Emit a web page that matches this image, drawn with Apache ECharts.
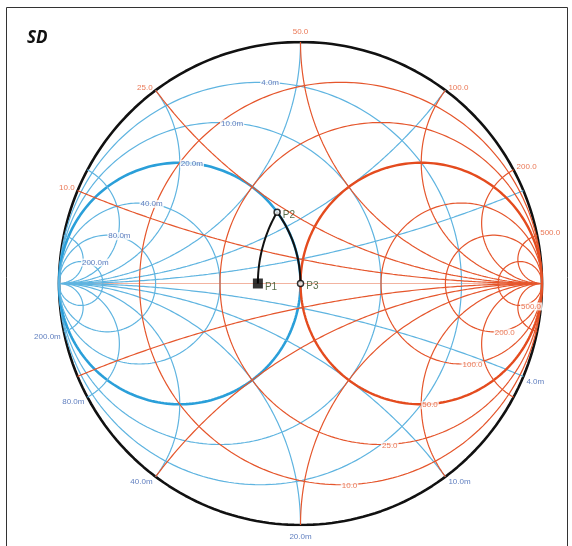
<!DOCTYPE html>
<html>
<head>
<meta charset="utf-8">
<title>SD</title>
<script src="https://cdn.jsdelivr.net/npm/echarts@6/dist/echarts.min.js"></script>
<style>
  html, body { margin: 0; padding: 0; background: #fff; }
  #chart { width: 572px; height: 546px; }
</style>
</head>
<body>
<div id="chart"></div>
<script>
// reference impedance, ohms
const Z0 = 50;
// red grid: constant resistance circles and reactance arcs (ohms)
const resistanceOhms = [10, 25, 50, 100, 200, 500];
const reactanceOhms = [10, 25, 50, 100, 200, 500];
// blue grid: constant conductance circles and susceptance arcs (mS)
const conductanceMS = [4, 10, 20, 40, 80, 200];
const susceptanceMS = [4, 10, 20, 40, 80, 200];
// matching path points (R + jX, ohms)
const pointNames = ['P1', 'P2', 'P3'];
const pointR = [35, 35, 50];
const pointX = [0, 22.9, 0];

const RED = '#e5562c';
const BLUE = '#5fb4e0';
const Y0 = 1000 / Z0; // mS

// z = r + jx (normalized) -> reflection coefficient
function gammaZ (r, x) {
  const den = (r + 1) * (r + 1) + x * x;
  return [(r * r - 1 + x * x) / den, (2 * x) / den];
}
// y = g + jb (normalized) -> reflection coefficient
function gammaY (g, b) {
  const p = gammaZ(g, b);
  return [-p[0], -p[1]];
}
function circle (cx, r) {
  const pts = [];
  for (let i = 0; i <= 240; i++) {
    const a = i / 240 * Math.PI * 2;
    pts.push([cx + r * Math.cos(a), r * Math.sin(a)]);
  }
  return pts;
}
function arc (fn, im) {
  const pts = [];
  for (let i = 0; i < 400; i++) {
    const t = i / 400;
    pts.push(fn(t / (1 - t), im));
  }
  pts.push(fn(1e6, im));
  return pts;
}
function lineSeries (data, color, width, z) {
  return {
    type: 'line', data: data, showSymbol: false, silent: true, smooth: false,
    lineStyle: { color: color, width: width }, z: z || 2
  };
}
function sideOf (p) {
  if (Math.abs(p[0]) < 0.15) return p[1] > 0 ? 'top' : 'bottom';
  return p[0] < 0 ? 'left' : 'right';
}

const series = [];
const labels = [];

// outer circle
series.push(lineSeries(circle(0, 1), '#111', 2.6, 1));
// real axis
series.push(lineSeries([[-1, 0], [1, 0]], '#f2b3a0', 1, 2));

// blue: conductance circles
conductanceMS.forEach(function (v) {
  const g = v / Y0;
  const cx = -g / (1 + g), r = 1 / (1 + g);
  series.push(lineSeries(circle(cx, r), g === 1 ? '#2a9fd9' : BLUE, g === 1 ? 2.6 : 1.2, 3));
  labels.push({ value: [cx, r], text: v.toFixed(1) + 'm', color: '#3a60b0', pos: 'right', bg: true });
});
// blue: susceptance arcs
susceptanceMS.forEach(function (v) {
  const b = v / Y0;
  series.push(lineSeries(arc(gammaY, b), BLUE, 1.2, 3));
  series.push(lineSeries(arc(gammaY, -b), BLUE, 1.2, 3));
  const p = gammaY(0, b);
  labels.push({ value: p, text: v.toFixed(1) + 'm', color: '#3a60b0', pos: sideOf(p), dy: 5 });
});
// red: resistance circles
resistanceOhms.forEach(function (v) {
  const r = v / Z0;
  const cx = r / (1 + r), rad = 1 / (1 + r);
  series.push(lineSeries(circle(cx, rad), r === 1 ? '#e44b1e' : RED, r === 1 ? 2.4 : 1.2, 4));
  labels.push({ value: [cx, -rad], text: v.toFixed(1), color: RED, pos: 'right', bg: true });
});
// red: reactance arcs
reactanceOhms.forEach(function (v) {
  const x = v / Z0;
  series.push(lineSeries(arc(gammaZ, x), RED, 1.2, 4));
  series.push(lineSeries(arc(gammaZ, -x), RED, 1.2, 4));
  const p = gammaZ(0, x);
  labels.push({ value: p, text: v.toFixed(1), color: RED, pos: sideOf(p), dy: -3 });
});

series.push({
  type: 'scatter', silent: true, symbolSize: 0, z: 6,
  data: labels.map(function (l) {
    return {
      value: l.value, name: l.text,
      label: {
        show: true, formatter: l.text, position: l.pos, distance: l.bg ? 0 : 3,
        offset: [0, l.bg ? 1 : (l.dy || 0)],
        color: l.color, fontSize: 8, fontFamily: 'Liberation Sans',
        backgroundColor: l.bg ? '#fff' : 'transparent', padding: l.bg ? [0, 1] : 0
      }
    };
  })
});

// matching path: series reactance P1 -> P2, then shunt susceptance P2 -> P3
const path = [];
const r1 = pointR[0] / Z0;
const x2 = pointX[1] / Z0;
for (let i = 0; i <= 60; i++) path.push(gammaZ(r1, x2 * i / 60));
const zr = pointR[1] / Z0;
const yden = zr * zr + x2 * x2;
const g2 = zr / yden, b2 = -x2 / yden;
for (let i = 0; i <= 60; i++) path.push(gammaY(g2, b2 * (1 - i / 60)));
series.push(lineSeries(path, '#111', 2, 7));

series.push({
  type: 'scatter', silent: true, z: 8,
  data: pointNames.map(function (n, i) {
    const first = i === 0;
    return {
      value: gammaZ(pointR[i] / Z0, pointX[i] / Z0), name: n,
      symbol: first ? 'rect' : 'circle', symbolSize: first ? 10 : 6,
      itemStyle: first ? { color: '#000' } : { color: '#fff', borderColor: '#000', borderWidth: 1.5 },
      label: {
        show: true, formatter: n, position: 'right', distance: 2,
        offset: first ? [0, 4] : [0, 3],
        color: '#2f4a1f', fontSize: 10, fontFamily: 'Liberation Sans'
      }
    };
  })
});

const chart = echarts.init(document.getElementById('chart'));
chart.setOption({
  animation: false,
  backgroundColor: '#fff',
  grid: { left: 59, top: 42, width: 483, height: 483 },
  xAxis: { type: 'value', min: -1, max: 1, show: false },
  yAxis: { type: 'value', min: -1, max: 1, show: false },
  graphic: [
    { type: 'rect', shape: { x: 6.5, y: 7.5, width: 561, height: 600 }, style: { fill: 'none', stroke: '#333', lineWidth: 1 } },
    { type: 'text', left: 27, top: 30, style: { text: 'SD', font: 'italic bold 17px "Open Sans"', fill: '#111' } }
  ],
  series: series
});
</script>
</body>
</html>
